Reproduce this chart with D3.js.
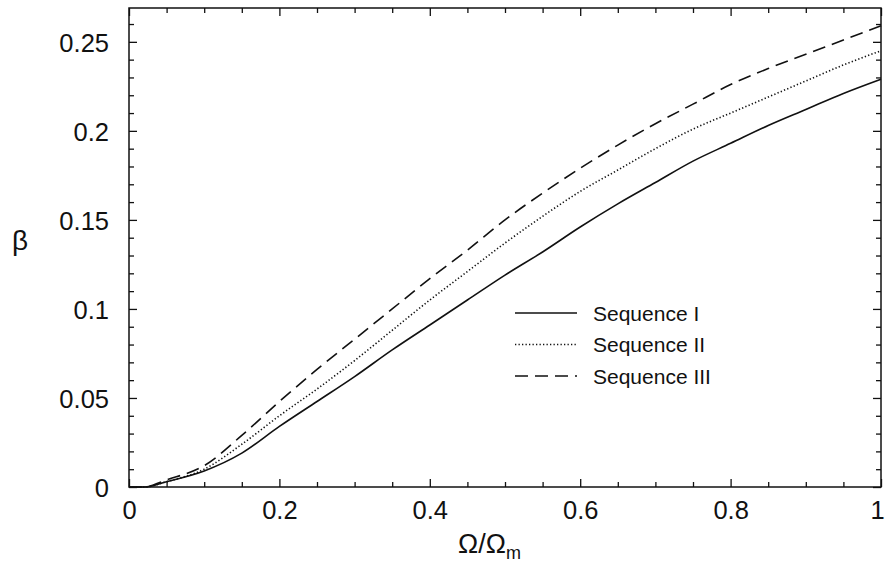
<!DOCTYPE html>
<html lang="en">
<head>
    <meta charset="UTF-8">
    <title>beta vs Omega/Omega_m</title>
    <script src="https://d3js.org/d3.v7.min.js"></script>
    <style>
        body {
            margin: 0;
            background: #fff;
        }
        svg text {
            font-family: "Liberation Sans", Arial, Helvetica, sans-serif;
            fill: #111;
        }
        .tick text {
            font-size: 25.5px;
        }
        .legend text {
            font-size: 21px;
        }
    </style>
</head>
<body>
    <script>
        // Omega / Omega_m sample points
        const omega = [0, 0.02, 0.05, 0.1, 0.15, 0.2, 0.25, 0.3, 0.35, 0.4, 0.45, 0.5,
                       0.55, 0.6, 0.65, 0.7, 0.75, 0.8, 0.85, 0.9, 0.95, 1.0];

        const seqI   = [0, 0, 0.003, 0.009, 0.019, 0.034, 0.048, 0.062, 0.077, 0.091, 0.105, 0.119,
                        0.132, 0.146, 0.159, 0.171, 0.183, 0.193, 0.203, 0.212, 0.221, 0.229];
        const seqII  = [0, 0, 0.003, 0.010, 0.024, 0.040, 0.055, 0.071, 0.088, 0.105, 0.121, 0.137,
                        0.152, 0.166, 0.178, 0.190, 0.201, 0.210, 0.219, 0.228, 0.237, 0.245];
        const seqIII = [0, 0, 0.004, 0.012, 0.029, 0.048, 0.066, 0.083, 0.100, 0.117, 0.133, 0.150,
                        0.165, 0.179, 0.192, 0.204, 0.215, 0.226, 0.235, 0.243, 0.251, 0.259];

        const seriesNames = ["Sequence I", "Sequence II", "Sequence III"];
        const xMajor = [0, 0.2, 0.4, 0.6, 0.8, 1];
        const yMajor = [0, 0.05, 0.1, 0.15, 0.2, 0.25];

        const width = 885, height = 565;
        const plotLeft = 129, plotRight = 881, plotTop = 8, plotBottom = 487;

        const svg = d3.select("body").append("svg")
            .attr("width", width)
            .attr("height", height);

        const x = d3.scaleLinear().domain([0, 1]).range([plotLeft, plotRight]);
        const y = d3.scaleLinear().domain([0, 0.269]).range([plotBottom, plotTop]);

        const fmt = d3.format("~g");
        const xMinor = d3.range(0, 1.0001, 0.05).filter(v => Math.abs(v * 5 - Math.round(v * 5)) > 1e-6);
        const yMinor = d3.range(0, 0.2691, 0.01).filter(v => Math.abs(v * 20 - Math.round(v * 20)) > 1e-6);

        function styleAxis(g) {
            g.select(".domain").remove();
            g.selectAll(".tick line").attr("stroke", "#111").attr("stroke-width", 1.3);
        }

        // bottom axis
        const xAxisG = svg.append("g")
            .attr("transform", `translate(0,${plotBottom})`)
            .call(d3.axisBottom(x).tickValues(xMajor).tickFormat(fmt).tickSize(-8).tickPadding(14))
            .call(styleAxis);
        // last label sits on the image edge, nudge it inside
        xAxisG.selectAll(".tick text").filter(d => d === 1).attr("dx", -4);
        svg.append("g")
            .attr("transform", `translate(0,${plotBottom})`)
            .call(d3.axisBottom(x).tickValues(xMinor).tickFormat("").tickSize(-5))
            .call(styleAxis);

        // top axis
        svg.append("g")
            .attr("transform", `translate(0,${plotTop})`)
            .call(d3.axisTop(x).tickValues(xMajor).tickFormat("").tickSize(-8))
            .call(styleAxis);
        svg.append("g")
            .attr("transform", `translate(0,${plotTop})`)
            .call(d3.axisTop(x).tickValues(xMinor).tickFormat("").tickSize(-5))
            .call(styleAxis);

        // left axis
        svg.append("g")
            .attr("transform", `translate(${plotLeft},0)`)
            .call(d3.axisLeft(y).tickValues(yMajor).tickFormat(fmt).tickSize(-8).tickPadding(20))
            .call(styleAxis)
            .selectAll("text").attr("dy", "0.38em");
        svg.append("g")
            .attr("transform", `translate(${plotLeft},0)`)
            .call(d3.axisLeft(y).tickValues(yMinor).tickFormat("").tickSize(-5))
            .call(styleAxis);

        // right axis
        svg.append("g")
            .attr("transform", `translate(${plotRight},0)`)
            .call(d3.axisRight(y).tickValues(yMajor).tickFormat("").tickSize(-8))
            .call(styleAxis);
        svg.append("g")
            .attr("transform", `translate(${plotRight},0)`)
            .call(d3.axisRight(y).tickValues(yMinor).tickFormat("").tickSize(-5))
            .call(styleAxis);

        // frame
        svg.append("rect")
            .attr("x", plotLeft).attr("y", plotTop)
            .attr("width", plotRight - plotLeft).attr("height", plotBottom - plotTop)
            .attr("fill", "none")
            .attr("stroke", "#111")
            .attr("stroke-width", 1.5);

        // curves
        const styles = [
            { dash: null, width: 1.6 },
            { dash: "1.3,2.2", width: 1.6 },
            { dash: "13,7", width: 1.6 }
        ];
        const allSeries = [seqI, seqII, seqIII];

        const line = d3.line()
            .x((d, i) => x(omega[i]))
            .y(d => y(d))
            .curve(d3.curveMonotoneX);

        allSeries.forEach((s, k) => {
            svg.append("path")
                .datum(s)
                .attr("fill", "none")
                .attr("stroke", "#111")
                .attr("stroke-width", styles[k].width)
                .attr("stroke-dasharray", styles[k].dash)
                .attr("d", line);
        });

        // legend
        const legend = svg.append("g").attr("class", "legend");
        seriesNames.forEach((name, k) => {
            const ly = 313 + k * 31.5;
            legend.append("line")
                .attr("x1", 515).attr("x2", 577)
                .attr("y1", ly).attr("y2", ly)
                .attr("stroke", "#111")
                .attr("stroke-width", styles[k].width)
                .attr("stroke-dasharray", styles[k].dash);
            legend.append("text")
                .attr("x", 593).attr("y", ly)
                .attr("dy", "0.36em")
                .text(name);
        });

        // axis titles
        const xt = svg.append("text")
            .attr("x", 458).attr("y", 553)
            .style("font-size", "27px");
        xt.append("tspan").text("Ω/Ω");
        xt.append("tspan").attr("dy", 6).style("font-size", "18px").text("m");

        svg.append("text")
            .attr("x", 12).attr("y", 250)
            .style("font-size", "28px")
            .text("β");
    </script>
</body>
</html>
